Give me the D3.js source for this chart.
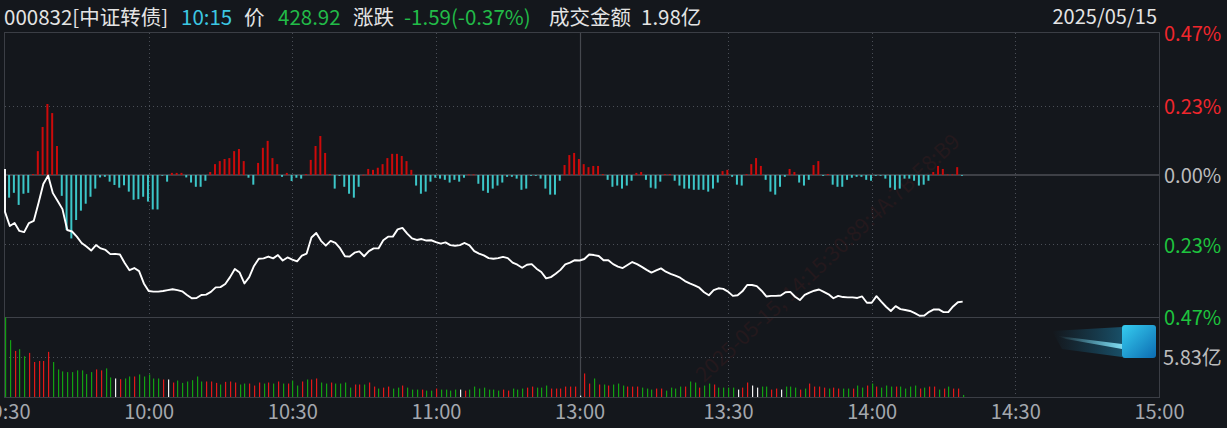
<!DOCTYPE html>
<html><head><meta charset="utf-8">
<script src="https://cdn.jsdelivr.net/npm/d3@7"></script>
<style>
html,body{margin:0;padding:0;background:#14171c;overflow:hidden;}
svg{display:block;}
text{font-family:"Noto Sans CJK SC","Noto Sans",sans-serif;}
</style></head><body>
<svg id="c" width="1227" height="428"></svg>
<script>
// ---------- DATA ----------
// price change (%) per minute slot (0 = 09:30 ... 120 = 11:30, 121 = 13:00 ...)
const openPct = 0.020;
const pricePct = [
-0.122,-0.169,-0.159,-0.185,-0.189,-0.159,-0.152,-0.093,-0.030,-0.002,
-0.060,-0.086,-0.113,-0.182,-0.187,-0.204,-0.225,-0.237,-0.250,-0.232,
-0.243,-0.248,-0.262,-0.261,-0.263,-0.291,-0.315,-0.308,-0.318,-0.359,
-0.384,-0.386,-0.386,-0.384,-0.381,-0.378,-0.381,-0.385,-0.397,-0.408,
-0.407,-0.397,-0.396,-0.387,-0.372,-0.371,-0.361,-0.338,-0.311,-0.323,
-0.359,-0.338,-0.301,-0.277,-0.276,-0.270,-0.276,-0.265,-0.283,-0.273,
-0.280,-0.286,-0.267,-0.260,-0.207,-0.192,-0.218,-0.234,-0.218,-0.225,
-0.243,-0.269,-0.270,-0.257,-0.253,-0.269,-0.252,-0.243,-0.243,-0.216,
-0.204,-0.204,-0.180,-0.175,-0.194,-0.210,-0.215,-0.212,-0.217,-0.216,
-0.222,-0.227,-0.223,-0.232,-0.234,-0.232,-0.225,-0.233,-0.252,-0.260,
-0.266,-0.275,-0.277,-0.275,-0.271,-0.275,-0.290,-0.297,-0.307,-0.297,
-0.295,-0.310,-0.321,-0.342,-0.338,-0.327,-0.314,-0.296,-0.290,-0.282,
-0.283,
-0.278,-0.263,-0.265,-0.268,-0.282,-0.282,-0.295,-0.303,-0.308,-0.298,
-0.288,-0.295,-0.304,-0.314,-0.323,-0.316,-0.309,-0.320,-0.327,-0.333,
-0.340,-0.351,-0.359,-0.365,-0.373,-0.388,-0.398,-0.381,-0.375,-0.377,
-0.386,-0.400,-0.398,-0.385,-0.364,-0.364,-0.368,-0.383,-0.402,-0.400,
-0.400,-0.399,-0.388,-0.387,-0.403,-0.414,-0.397,-0.389,-0.383,-0.379,
-0.387,-0.395,-0.408,-0.400,-0.404,-0.405,-0.405,-0.407,-0.402,-0.423,
-0.423,-0.401,-0.419,-0.436,-0.450,-0.434,-0.444,-0.447,-0.450,-0.457,
-0.466,-0.465,-0.453,-0.445,-0.445,-0.454,-0.454,-0.435,-0.421,-0.419
];
// red/cyan indicator bars (slots 1..200), same % axis
const flowPct = [
-0.075,-0.059,-0.099,-0.062,-0.059,0.003,0.079,0.159,0.235,0.205,
0.096,-0.069,-0.182,-0.210,-0.149,-0.118,-0.095,-0.072,-0.045,-0.008,
-0.006,-0.022,-0.033,-0.042,-0.034,-0.055,-0.082,-0.080,-0.072,-0.088,
-0.114,-0.114,-0.002,-0.022,0.007,0.007,0.007,-0.008,-0.025,-0.039,
-0.039,-0.019,0.010,0.036,0.046,0.053,0.056,0.079,0.086,0.046,
-0.009,-0.032,0.040,0.090,0.113,0.056,0.036,-0.006,0.007,-0.020,
-0.009,-0.012,0.003,0.050,0.096,0.129,0.073,0.003,-0.045,-0.003,
-0.039,-0.062,-0.075,-0.039,0.001,0.020,0.017,0.024,0.036,0.056,
0.070,0.070,0.063,0.046,0.017,-0.035,-0.062,-0.055,-0.022,-0.009,
-0.012,-0.016,-0.025,-0.016,-0.022,-0.009,0.002,0.002,-0.029,-0.052,
-0.059,-0.045,-0.035,-0.025,-0.006,-0.006,-0.012,-0.049,-0.045,-0.002,
-0.002,-0.012,-0.045,-0.065,-0.065,-0.019,0.033,0.066,0.073,0.053,
0.036,0.026,0.030,0.030,0.003,-0.016,-0.039,-0.035,-0.045,-0.035,
-0.019,0.007,0.010,-0.016,-0.042,-0.045,-0.022,0.003,0.003,-0.019,
-0.035,-0.045,-0.045,-0.049,-0.049,-0.049,-0.055,-0.045,-0.025,0.013,
0.017,-0.006,-0.032,-0.035,0.003,0.036,0.056,0.030,-0.016,-0.055,
-0.065,-0.039,-0.006,0.020,0.010,-0.025,-0.035,-0.016,0.033,0.046,
-0.003,0.003,-0.032,-0.039,-0.039,-0.016,-0.009,-0.006,-0.006,-0.016,
-0.019,-0.002,-0.002,-0.012,-0.042,-0.049,-0.045,-0.012,-0.012,-0.019,
-0.035,-0.032,-0.019,0.010,0.030,0.020,0.002,0.002,0.026,-0.002
];
// volume per slot (亿) and bar colour (r up, g down, w flat)
const volume = [
11.60,8.29,6.72,6.97,5.94,6.43,5.10,5.25,5.25,6.58,
5.10,4.02,3.73,3.63,3.63,3.88,3.88,3.34,3.63,4.02,
3.88,4.17,2.85,2.70,2.60,2.70,2.99,2.99,3.29,2.99,
3.29,2.70,2.70,2.55,2.55,2.11,2.40,2.06,2.26,2.45,
2.99,2.26,2.26,2.26,2.06,1.82,2.21,2.26,2.11,1.82,
1.96,1.96,1.67,2.11,1.96,2.11,1.96,2.26,1.96,1.96,
2.40,1.67,2.26,2.55,2.55,2.70,2.11,1.96,2.11,1.96,
1.96,2.11,1.37,1.82,1.82,1.82,2.11,1.52,1.23,1.37,
1.52,1.23,1.37,1.67,1.37,1.08,1.08,1.08,0.93,0.93,
1.23,1.08,1.08,0.93,1.08,1.08,0.93,1.08,1.52,1.23,
1.37,1.08,1.08,0.93,1.08,0.93,1.23,1.08,1.23,1.37,
1.52,1.37,1.37,1.67,1.23,1.23,1.23,1.52,1.52,1.52,
0.20,
3.43,1.96,2.70,1.82,1.82,1.67,1.82,1.96,1.67,1.52,
1.52,1.52,1.37,1.23,1.08,1.23,1.23,0.93,1.37,1.23,
1.52,1.52,2.26,2.11,1.37,1.67,1.96,1.82,1.37,1.37,
1.37,1.37,1.08,1.37,2.11,1.67,1.37,1.52,1.52,1.08,
1.23,1.08,1.52,1.52,1.37,1.08,1.23,1.96,1.52,1.52,
1.37,1.23,1.37,1.23,1.23,1.23,1.23,1.67,1.37,1.67,
1.96,1.52,1.37,1.67,1.52,1.52,1.52,1.23,1.52,1.67,
1.23,1.37,1.52,1.52,1.08,1.23,1.52,1.23,1.23,0.30
];
const volDir = (
"ggrggrrrrrgggggggggrrggwrggrgggggrwrggggggrrrgrrrggrrrgrgrgrggrgrrggrggggrrgrrgrrggrgggrggrggggwrggggggg"+
"rrgggrrgggrrrrrrw"+
"rrgrgrgggrrrgggrrggggrggrggrgggg" + "wrrwwggrrwgggrgrrrrgrrggrggrgrgggrgggg" + "rgrrgrgrr"
).split("");
const timeTicks = [0,30,60,90,120,151,181,211,241];
const timeLabels = ["09:30","10:00","10:30","11:00","13:00","13:30","14:00","14:30","15:00"];
const pctTicks = [0.47,0.23,0,-0.23,-0.47];
const pctLabels = ["0.47%","0.23%","0.00%","0.23%","0.47%"];
const volTicks = [5.83];
const volLabels = ["5.83亿"];
const headerTexts = ["000832[中证转债]","10:15","价","428.92","涨跌","-1.59(-0.37%)","成交金额","1.98亿"];
const headerColors = ["#e4e4e4","#3cc7e2","#e4e4e4","#22bb48","#e4e4e4","#22bb48","#e4e4e4","#e4e4e4"];
const dateText = "2025/05/15";
const watermarkText = "2025-05-15, 14:15:30:89:4A:7B:E8:B9";

// ---------- LAYOUT ----------
const L=5, R=1159, T=33, PB=317, VB=397;
const FS = 20;
const svg = d3.select("#c");
const x = d3.scaleLinear().domain([0,241]).range([L,R]);
const y = d3.scaleLinear().domain([-0.47,0.47]).range([PB,T]);
const yv = d3.scaleLinear().domain([0,11.66]).range([VB,PB]);

svg.append("rect").attr("width",1227).attr("height",428).attr("fill","#14171c");

const defs = svg.append("defs");
const ig = defs.append("linearGradient").attr("id","iconG").attr("x1",0).attr("y1",0).attr("x2",1).attr("y2",1);
ig.append("stop").attr("offset","0%").attr("stop-color","#36cdf0");
ig.append("stop").attr("offset","100%").attr("stop-color","#0c6cb2");
const tg = defs.append("linearGradient").attr("id","trailG").attr("x1",0).attr("y1",0).attr("x2",1).attr("y2",0);
tg.append("stop").attr("offset","0%").attr("stop-color","#1a8fc4").attr("stop-opacity",0);
tg.append("stop").attr("offset","100%").attr("stop-color","#1fa3d8").attr("stop-opacity",0.4);
const sg = defs.append("linearGradient").attr("id","streakG").attr("x1",0).attr("y1",0).attr("x2",1).attr("y2",0);
sg.append("stop").attr("offset","0%").attr("stop-color","#7fe6ff").attr("stop-opacity",0);
sg.append("stop").attr("offset","100%").attr("stop-color","#8aeaff").attr("stop-opacity",0.9);

// faint watermark (only copies that fit inside the plot)
const wm = svg.append("g");
const ax=[0.729,-0.684], px=[0.684,0.729], WL=330;
for(let r=-4;r<=4;r++){
  for(let k=-3;k<=3;k++){
    const sx = 553 + r*210*px[0] + (k*505 + r*10)*ax[0];
    const sy = 237 + r*210*px[1] + (k*505 + r*10)*ax[1];
    const ex = sx + WL*ax[0], ey = sy + WL*ax[1];
    if (sx < L+8 || ex > R-20 || sy > VB-4 || ey < T+16) continue;
    wm.append("text").attr("x",sx).attr("y",sy)
      .attr("transform",`rotate(-43 ${sx} ${sy})`)
      .attr("font-family","Liberation Serif, DejaVu Serif, serif")
      .attr("font-size",21).attr("fill","#24191d").text(watermarkText);
  }
}

// grid
const grid = svg.append("g");
[0.23,-0.23].forEach(v=>{
  grid.append("line").attr("x1",L).attr("x2",R).attr("y1",Math.round(y(v))+0.5).attr("y2",Math.round(y(v))+0.5)
    .attr("stroke","#4a4e56").attr("stroke-dasharray","1,3");
});
[30,60,90,151,181,211].forEach(s=>{
  const xx=Math.round(x(s))+0.5;
  grid.append("line").attr("x1",xx).attr("x2",xx).attr("y1",T).attr("y2",VB)
    .attr("stroke","#4a4e56").attr("stroke-dasharray","1,3");
});
volTicks.forEach(v=>{
  grid.append("line").attr("x1",L).attr("x2",1053).attr("y1",Math.round(yv(v))+0.5).attr("y2",Math.round(yv(v))+0.5)
    .attr("stroke","#4a4e56").attr("stroke-dasharray","1,3");
});
grid.append("line").attr("x1",Math.round(x(120))+0.5).attr("x2",Math.round(x(120))+0.5).attr("y1",T).attr("y2",VB)
  .attr("stroke","#45484e").attr("stroke-width",1.2);
grid.append("line").attr("x1",L).attr("x2",R).attr("y1",y(0)).attr("y2",y(0))
  .attr("stroke","#4c4f55").attr("stroke-width",1.6);
grid.append("rect").attr("x",L-0.5).attr("y",T-0.5).attr("width",R-L+1).attr("height",VB-T+1)
  .attr("fill","none").attr("stroke","#3b3e45");
grid.append("line").attr("x1",L).attr("x2",R).attr("y1",PB+0.5).attr("y2",PB+0.5).attr("stroke","#3e4148").attr("stroke-width",1.2);

// indicator bars
svg.append("g").selectAll("rect").data(flowPct).join("rect")
  .attr("x",(d,i)=>x(i+1)-1.7)
  .attr("width",2)
  .attr("y",d=>d>=0?y(d):y(0))
  .attr("height",d=>Math.max(0.8,Math.abs(y(d)-y(0))))
  .attr("fill",d=>d>=0?"#cc0a0a":"#3cc6c8");

// price line
const pts = [{s:0,v:openPct}].concat(pricePct.map((v,i)=>({s:i,v})));
svg.append("path").datum(pts)
  .attr("d",d3.line().x(d=>x(d.s)).y(d=>y(d.v)))
  .attr("fill","none").attr("stroke","#ffffff").attr("stroke-width",1.9).attr("stroke-linejoin","round");

// volume bars
const vcol = {r:"#e21818",g:"#12a012",w:"#f2f2f2"};
svg.append("g").selectAll("rect").data(volume).join("rect")
  .attr("x",(d,i)=>Math.round(x(i)))
  .attr("width",1.2)
  .attr("y",d=>yv(Math.min(d,11.62)))
  .attr("height",d=>VB-yv(Math.min(d,11.62)))
  .attr("fill",(d,i)=>vcol[volDir[i]]||vcol.g);

// right axis (percent)
const ra = svg.append("g").attr("transform",`translate(${R},0)`)
  .call(d3.axisRight(y).tickValues(pctTicks).tickFormat((d,i)=>pctLabels[i]).tickSize(0).tickPadding(5));
ra.select(".domain").remove();
ra.selectAll("text").attr("dy","0.38em").attr("font-size",FS)
  .attr("font-family","Noto Sans CJK SC, Noto Sans, sans-serif")
  .attr("fill",d=>d>0?"#f0262c":(d<0?"#1ec43e":"#bcbcbc"));
const va = svg.append("g").attr("transform",`translate(${R},0)`)
  .call(d3.axisRight(yv).tickValues(volTicks).tickFormat((d,i)=>volLabels[i]).tickSize(0).tickPadding(4));
va.select(".domain").remove();
va.selectAll("text").attr("dy","0.38em").attr("font-size",FS)
  .attr("font-family","Noto Sans CJK SC, Noto Sans, sans-serif").attr("fill","#bcbcbc");

// time axis
const ta = svg.append("g").attr("transform",`translate(0,${VB})`)
  .call(d3.axisBottom(x).tickValues(timeTicks).tickFormat((d,i)=>timeLabels[i]).tickSize(0).tickPadding(8));
ta.select(".domain").remove();
ta.selectAll("text").attr("font-size",FS)
  .attr("font-family","Noto Sans CJK SC, Noto Sans, sans-serif").attr("fill","#a4a8ae");

// header
const hx = [4,181,244,278,353,404,549,641];
svg.append("g").selectAll("text").data(headerTexts).join("text")
  .attr("x",(d,i)=>hx[i]).attr("y",25).attr("font-size",20.5)
  .attr("fill",(d,i)=>headerColors[i]).text(d=>d);
svg.append("text").attr("x",1157).attr("y",24).attr("text-anchor","end").attr("font-size",FS)
  .attr("fill","#e4e4e4").text(dateText);

// icon with comet trail
const ic = svg.append("g");
ic.append("polygon").attr("points","1052,331 1122,327 1122,357 1062,349").attr("fill","url(#trailG)");
ic.append("polygon").attr("points","1058,336 1122,344 1122,349 1066,339").attr("fill","url(#streakG)");
ic.append("rect").attr("x",1122).attr("y",325).attr("width",34).attr("height",33).attr("rx",3).attr("fill","url(#iconG)");
</script>
</body></html>
